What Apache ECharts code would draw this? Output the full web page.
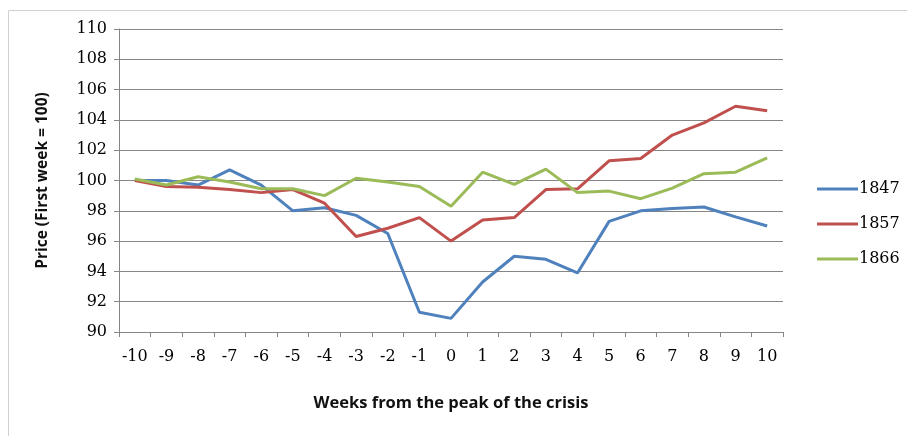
<!DOCTYPE html>
<html>
<head>
<meta charset="utf-8">
<script src="https://cdn.jsdelivr.net/npm/echarts@6/dist/echarts.min.js"></script>
<style>html,body{margin:0;padding:0;background:#fff;}#c{width:907px;height:436px;}</style>
</head>
<body>
<div id="c"></div>
<script>
const weeks = ['-10','-9','-8','-7','-6','-5','-4','-3','-2','-1','0','1','2','3','4','5','6','7','8','9','10'];
const s1847 = [100.0,100.0,99.7,100.7,99.7,98.0,98.2,97.7,96.5,91.3,90.9,93.3,95.0,94.8,93.9,97.3,98.0,98.15,98.25,97.6,97.0];
const s1857 = [100.0,99.6,99.55,99.4,99.2,99.4,98.5,96.3,96.85,97.55,96.0,97.4,97.55,99.4,99.45,101.3,101.45,103.0,103.8,104.9,104.6];
const s1866 = [100.1,99.7,100.25,99.9,99.45,99.45,99.0,100.15,99.9,99.6,98.3,100.55,99.75,100.75,99.2,99.3,98.8,99.5,100.45,100.55,101.5];
const yTicks = {min: 90, max: 110, interval: 2};

const chart = echarts.init(document.getElementById('c'));
const axisGray = '#868686';
const lbl = {fontFamily: 'DejaVu Serif', fontSize: 16, color: '#000'};
chart.setOption({
  animation: false,
  backgroundColor: '#fff',
  graphic: [{
    type: 'rect', left: 6, top: 8, silent: true,
    shape: {x: 0, y: 0, width: 940, height: 460},
    style: {fill: 'none', stroke: '#d0d0d0', lineWidth: 1}
  }],
  grid: {left: 119, top: 29, width: 664, height: 303, containLabel: false},
  legend: {
    orient: 'vertical', left: 812, top: 176, itemGap: 19,
    itemWidth: 41, itemHeight: 14,
    icon: 'path://M0,6 L41,6 L41,9 L0,9 Z',
    textStyle: {fontFamily: 'DejaVu Serif', fontSize: 16, color: '#000', padding: [0,0,0,-4]},
    data: ['1847','1857','1866']
  },
  xAxis: {
    type: 'category', data: weeks, boundaryGap: true,
    name: 'Weeks from the peak of the crisis', nameLocation: 'middle', nameGap: 63,
    nameTextStyle: {fontFamily: 'Open Sans', fontWeight: 'bold', fontSize: 16.5, color: '#111'},
    axisLine: {lineStyle: {color: axisGray}},
    axisTick: {show: true, length: 5, lineStyle: {color: axisGray}},
    axisLabel: Object.assign({margin: 17, interval: 0}, lbl)
  },
  yAxis: {
    type: 'value', min: yTicks.min, max: yTicks.max, interval: yTicks.interval,
    name: 'Price (First week = 100)', nameLocation: 'middle', nameGap: 68,
    nameTextStyle: {fontFamily: 'Open Sans', fontWeight: 'bold', fontSize: 15.5, color: '#111'},
    axisLine: {show: true, lineStyle: {color: axisGray}},
    axisTick: {show: true, length: 5, lineStyle: {color: axisGray}},
    axisLabel: Object.assign({margin: 12}, lbl),
    splitLine: {lineStyle: {color: axisGray, width: 1}}
  },
  series: [
    {name: '1847', type: 'line', data: s1847, showSymbol: false, symbol: 'none', lineStyle: {color: '#4F81BD', width: 3}, itemStyle: {color: '#4F81BD'}},
    {name: '1857', type: 'line', data: s1857, showSymbol: false, symbol: 'none', lineStyle: {color: '#C0504D', width: 3}, itemStyle: {color: '#C0504D'}},
    {name: '1866', type: 'line', data: s1866, showSymbol: false, symbol: 'none', lineStyle: {color: '#9BBB59', width: 3}, itemStyle: {color: '#9BBB59'}}
  ]
});
</script>
</body>
</html>
